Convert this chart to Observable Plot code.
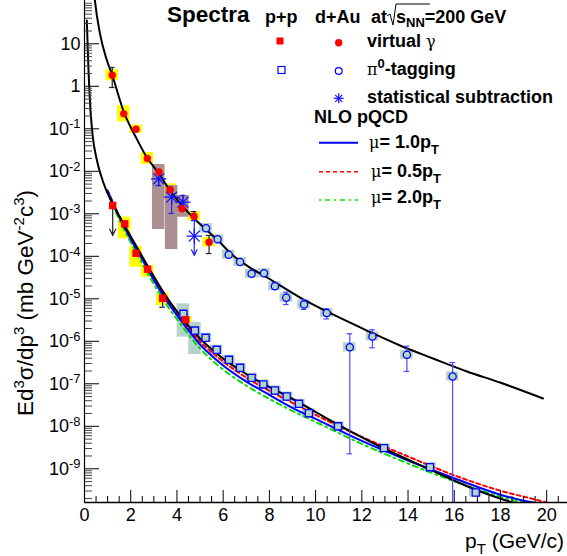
<!DOCTYPE html>
<html><head><meta charset="utf-8">
<script src="https://cdn.jsdelivr.net/npm/d3@7"></script>
<script src="https://cdn.jsdelivr.net/npm/@observablehq/plot@0.6"></script>
<style>
body{margin:0;background:#fff;}
#wrap{position:relative;width:567px;height:556px;font-family:"Liberation Sans",Arial,sans-serif;}
#wrap svg{position:absolute;left:0;top:0;}
</style></head><body><div id="wrap"></div>
<script>
// ---------- data ----------
// d+Au virtual photon
const dAuVgPt   = [1.20, 1.70, 2.23, 2.72, 3.22, 3.71, 4.22, 4.74, 5.39];
const dAuVgVal  = [1.82, 0.225, 0.098, 0.020, 0.0096, 0.00367, 0.00131, 0.00088, 0.000215];
const dAuVgErrLo= [0.937, null, null, null, null, null, null, 6.95e-4, 1.16e-4];
const dAuVgErrHi= [2.77, null, null, null, null, null, null, 1.13e-3, 3.09e-4];
const dAuVgSysLo= [1.35, 0.145, 0.0778, 0.0145, 0.00696, 0.00266, 0.00095, 0.000683, 0.000167];
const dAuVgSysHi= [2.46, 0.349, 0.123, 0.0276, 0.01325, 0.00506, 0.00181, 0.00113, 0.000277];
// d+Au statistical subtraction
const dAuSsPt   = [3.21, 3.77, 4.26, 4.75];
const dAuSsVal  = [0.00667, 0.00246, 0.00188, 0.000297];
const dAuSsErrLo= [0.00464, 0.00102, 0.00141, null];
const dAuSsErrHi= [0.01045, 0.00353, 0.0027, 6.95e-4];
const dAuSsLimTo= [null, null, null, 1.04e-4];
const dAuSsSysLo= [0.000427, 0.000144, 0.00083, null];
const dAuSsSysHi= [0.01445, 0.00464, 0.0027, null];
// d+Au pi0 tagging
const dAuPiPt   = [5.26, 5.76, 6.24, 6.73, 7.23, 7.77, 8.24, 8.73, 9.50, 10.48, 11.48, 12.46, 13.95, 15.93];
const dAuPiVal  = [4.56e-4, 2.51e-4, 1.09e-4, 7.35e-5, 3.88e-5, 4.0e-5, 1.98e-5, 1.06e-5, 7.34e-6, 4.63e-6, 7.26e-7, 1.30e-6, 4.81e-7, 1.49e-7];
const dAuPiErrLo= [null, null, 9.6e-5, null, null, null, 1.66e-5, 7.34e-6, 5.6e-6, 3.35e-6, 2.25e-9, 7.03e-7, 1.95e-7, 1e-12];
const dAuPiErrHi= [null, null, 1.2e-4, null, null, null, 2.36e-5, 1.43e-5, 9.5e-6, 5.82e-6, 1.5e-6, 1.87e-6, 7.67e-7, 3.17e-7];
const dAuPiSysRel=[0.30, 0.28, 0.28, 0.28, 0.28, 0.28, 0.28, 0.28, 0.28, 0.28, 0.28, 0.28, 0.28, 0.28];
// p+p virtual photon
const ppVgPt    = [1.22, 1.74, 2.23, 2.73, 3.38, 4.38];
const ppVgVal   = [1.57e-3, 5.82e-4, 1.18e-4, 4.97e-5, 1.03e-5, 3.22e-6];
const ppVgErrLo = [null, null, null, null, 6.34e-6, null];
const ppVgErrHi = [null, null, null, null, 1.1e-5, 4.27e-6];
const ppVgLimTo = [3.08e-4, null, null, null, null, null];
const ppVgSysLo = [null, 2.58e-4, 5.55e-5, 3.22e-5, 6.95e-6, 2.35e-6];
const ppVgSysHi = [null, 8.32e-4, 1.70e-4, 6.08e-5, 1.38e-5, 3.84e-6];
// p+p pi0 tagging
const ppPiPt    = [4.28, 4.78, 5.24, 5.72, 6.25, 6.73, 7.23, 7.74, 8.24, 8.75, 9.28, 9.71, 10.97, 12.96, 14.95, 16.93];
const ppPiVal   = [4.44e-6, 1.79e-6, 1.21e-6, 6.31e-7, 3.67e-7, 2.38e-7, 1.38e-7, 9.64e-8, 6.95e-8, 5.02e-8, 3.38e-8, 2.03e-8, 1.0e-8, 3.06e-9, 1.09e-9, 2.77e-10];
const ppPiSysLo = [1.25e-6, 4.89e-7, 9.5e-7, 4.9e-7, 2.85e-7, 1.86e-7, 1.08e-7, 7.5e-8, 5.4e-8, 3.9e-8, 2.64e-8, 1.58e-8, 7.8e-9, 2.38e-9, 8.5e-10, 2.16e-10];
const ppPiSysHi = [7.63e-6, 2.81e-6, 1.55e-6, 8.1e-7, 4.7e-7, 3.05e-7, 1.77e-7, 1.23e-7, 8.9e-8, 6.4e-8, 4.33e-8, 2.6e-8, 1.28e-8, 3.92e-9, 1.4e-9, 3.55e-10];
// fit curves (black)
const fitDAuPt  = [0.40, 0.45, 0.67, 0.93, 1.19, 1.71, 2.23, 2.70, 3.22, 3.70, 4.22, 4.74, 5.26, 5.78, 6.43, 7.16, 7.90, 9.33, 10.75, 12.22, 13.65, 15.08, 16.55, 17.98, 19.84];
const fitDAuVal = [200, 104.7, 17.4, 4.76, 1.90, 0.242, 0.0624, 0.0211, 0.00887, 0.00353, 0.00157, 7.74e-4, 4.28e-4, 2.36e-4, 1.04e-4, 5.44e-5, 3.17e-5, 1.07e-5, 4.28e-6, 1.79e-6, 7.96e-7, 3.94e-7, 1.95e-7, 1.07e-7, 4.51e-8];
const fitPpPt   = [0.10, 0.173, 0.26, 0.368, 0.519, 0.714, 0.93, 1.212, 1.709, 2.228, 2.748, 3.397, 4.132, 4.998, 5.993, 7.464, 8.892, 10.97, 12.96, 14.95, 16.90, 17.98, 18.97];
const fitPpVal  = [35.3, 2.36, 0.270, 0.0592, 0.0200, 0.00796, 0.00373, 0.00175, 5.6e-4, 1.79e-4, 5.75e-5, 1.49e-5, 4.05e-6, 1.16e-6, 3.94e-7, 1.20e-7, 4.76e-8, 1.10e-8, 3.0e-9, 9.6e-10, 3.26e-10, 2.0e-10, 1.37e-10];
// NLO pQCD (p+p)
const nloPt     = [1.0, 1.5, 2.0, 2.5, 3.0, 3.5, 4.0, 5.0, 6.0, 7.0, 8.0, 9.0, 10.0, 12.0, 14.0, 16.0, 18.0, 19.0, 20.0];
const nloMu10   = [3.46e-3, 8.55e-4, 2.51e-4, 8.41e-5, 2.74e-5, 9.95e-6, 4.11e-6, 8.41e-7, 2.70e-7, 1.13e-7, 5.48e-8, 2.71e-8, 1.49e-8, 4.53e-9, 1.57e-9, 5.97e-10, 2.46e-10, 1.77e-10, 1.44e-10];
const nloMu05   = [3.56e-3, 9.02e-4, 2.72e-4, 9.12e-5, 3.05e-5, 1.11e-5, 4.58e-6, 9.89e-7, 3.35e-7, 1.40e-7, 6.81e-8, 3.56e-8, 1.85e-8, 5.64e-9, 1.95e-9, 7.03e-10, 3.05e-10, 2.21e-10, 1.61e-10];
const nloMu20   = [3.10e-3, 7.26e-4, 2.13e-4, 6.77e-5, 2.21e-5, 8.01e-6, 3.31e-6, 6.77e-7, 2.17e-7, 9.08e-8, 4.41e-8, 2.30e-8, 1.27e-8, 3.85e-9, 1.33e-9, 5.08e-10, 2.21e-10, 1.59e-10, 1.30e-10];
// axis ticks
const xTicks = [0, 2, 4, 6, 8, 10, 12, 14, 16, 18, 20];
const yTicks = [1e-9, 1e-8, 1e-7, 1e-6, 1e-5, 1e-4, 1e-3, 1e-2, 1e-1, 1, 10];
const yTickLabels = ["10^-9","10^-8","10^-7","10^-6","10^-5","10^-4","10^-3","10^-2","10^-1","1","10"];

// ---------- build tables ----------
const rows = (pt, cols) => pt.map((x, i) => { const o = {x}; for (const k in cols) o[k] = cols[k][i]; return o; });
const dAuVg = rows(dAuVgPt, {y: dAuVgVal, lo: dAuVgErrLo, hi: dAuVgErrHi, slo: dAuVgSysLo, shi: dAuVgSysHi});
const dAuSs = rows(dAuSsPt, {y: dAuSsVal, lo: dAuSsErrLo, hi: dAuSsErrHi, lim: dAuSsLimTo, slo: dAuSsSysLo, shi: dAuSsSysHi});
const dAuPi = rows(dAuPiPt, {y: dAuPiVal, lo: dAuPiErrLo, hi: dAuPiErrHi, rel: dAuPiSysRel});
dAuPi.forEach(d => { d.slo = d.y / (1 + d.rel); d.shi = d.y * (1 + d.rel); });
const ppVg = rows(ppVgPt, {y: ppVgVal, lo: ppVgErrLo, hi: ppVgErrHi, lim: ppVgLimTo, slo: ppVgSysLo, shi: ppVgSysHi});
const ppPi = rows(ppPiPt, {y: ppPiVal, slo: ppPiSysLo, shi: ppPiSysHi});
const fitDAu = rows(fitDAuPt, {y: fitDAuVal});
const fitPp = rows(fitPpPt, {y: fitPpVal});
const nlo10 = rows(nloPt, {y: nloMu10});
const nlo05 = rows(nloPt, {y: nloMu05});
const nlo20 = rows(nloPt, {y: nloMu20});

const W = 567, H = 556, mL = 84, mB = 54, mT = 0, mR = 0;
const innerW = W - mL - mR, innerH = H - mT - mB;
const yMin = 1.61e-10, yMax = 104.5;
const boxHW = 0.27, capHW = 0.12;

const yMinor = [];
for (let k = -10; k <= 2; k++) for (let m = 2; m <= 9; m++) { const v = m * Math.pow(10, k); if (v > yMin && v < yMax) yMinor.push(v); }
const xMinor = [];
for (let v = 0.5; v < 20.9; v += 0.5) if (Math.abs(v / 2 - Math.round(v / 2)) > 1e-6) xMinor.push(+v.toFixed(1));

const YEL = "#ffff00", TEAL = "#b5d3c9", BROWN = "#ab8f93";
const sysBox = (data, fill) => Plot.rect(data.filter(d => d.slo != null), {x1: d => d.x - boxHW, x2: d => d.x + boxHW, y1: "slo", y2: "shi", fill, clip: true});
const errBars = (data, stroke) => {
  const e = data.filter(d => d.hi != null);
  const lo = e.filter(d => d.lo != null && d.lo > yMin);
  return [
    Plot.ruleX(e.filter(d => d.lo != null), {x: "x", y1: "lo", y2: "hi", stroke, strokeWidth: 1.2, clip: true}),
    Plot.ruleX(e.filter(d => d.lo == null), {x: "x", y1: "y", y2: "hi", stroke, strokeWidth: 1.2, clip: true}),
    Plot.ruleY(e, {y: "hi", x1: d => d.x - capHW, x2: d => d.x + capHW, stroke, strokeWidth: 1.2}),
    Plot.ruleY(lo, {y: "lo", x1: d => d.x - capHW, x2: d => d.x + capHW, stroke, strokeWidth: 1.2})
  ];
};
const limArrows = (data, stroke) => Plot.arrow(data.filter(d => d.lim != null), {x1: "x", x2: "x", y1: d => d.lo != null ? d.lo : d.y, y2: "lim", stroke, strokeWidth: 1.2, headLength: 9, headAngle: 50});

const chart = Plot.plot({
  width: W, height: H,
  marginLeft: mL, marginRight: mR, marginTop: mT, marginBottom: mB,
  style: {fontFamily: '"Liberation Sans", Arial, sans-serif', fontSize: "18px", background: "#fff", overflow: "visible"},
  x: {domain: [0, 20.9], axis: null},
  y: {type: "log", domain: [yMin, yMax], axis: null},
  marks: [
    // systematic boxes
    sysBox(ppVg, YEL),
    sysBox(ppPi, TEAL),
    sysBox(dAuVg, YEL),
    sysBox(dAuSs, BROWN),
    sysBox(dAuPi, TEAL),
    // curves
    Plot.line(fitDAu, {x: "x", y: "y", stroke: "#000", strokeWidth: 2, curve: "monotone-x", clip: true}),
    Plot.line(nlo20, {x: "x", y: "y", stroke: "#00e000", strokeWidth: 2, strokeDasharray: "2,4,5,4", curve: "monotone-x", clip: true}),
    Plot.line(nlo05, {x: "x", y: "y", stroke: "#ff0000", strokeWidth: 2, strokeDasharray: "4,3", curve: "monotone-x", clip: true}),
    Plot.line(nlo10, {x: "x", y: "y", stroke: "#0000ff", strokeWidth: 2, curve: "monotone-x", clip: true}),
    Plot.line(fitPp, {x: "x", y: "y", stroke: "#000", strokeWidth: 2, curve: "monotone-x", clip: true}),
    // error bars
    ...errBars(dAuVg, "#222"),
    ...errBars(ppVg, "#222"),
    ...errBars(dAuSs, "#2222ff"),
    ...errBars(dAuPi, "#4a4aff"),
    limArrows(ppVg, "#222"),
    limArrows(dAuSs, "#2222ff"),
    // markers
    Plot.dot(dAuSs, {x: "x", y: "y", symbol: "plus", r: 5, stroke: "#1010ff", strokeWidth: 1.2}),
    Plot.dot(dAuSs, {x: "x", y: "y", symbol: "times", r: 5, stroke: "#1010ff", strokeWidth: 1.2}),
    Plot.dot(dAuPi, {x: "x", y: "y", symbol: "circle", r: 3.6, stroke: "#0000ff", fill: TEAL, strokeWidth: 1.3}),
    Plot.dot(ppPi, {x: "x", y: "y", symbol: "square", r: 4, stroke: "#0000ff", fill: TEAL, strokeWidth: 1.3}),
    Plot.dot(dAuVg, {x: "x", y: "y", symbol: "circle", r: 3.7, fill: "#ff0000"}),
    Plot.dot(ppVg, {x: "x", y: "y", symbol: "square", r: 4.2, fill: "#ff0000"}),
    // axes
    Plot.tickX(xTicks, {x: d => d, insetTop: innerH - 12, stroke: "#000"}),
    Plot.tickX(xMinor, {x: d => d, insetTop: innerH - 6, stroke: "#000"}),
    Plot.tickY(yTicks, {y: d => d, insetRight: innerW - 15, stroke: "#000"}),
    Plot.tickY(yMinor, {y: d => d, insetRight: innerW - 8, stroke: "#444"}),
    Plot.ruleX([0], {stroke: "#000", strokeWidth: 1.2}),
    Plot.ruleY([yMin], {stroke: "#000", strokeWidth: 1.5}),
    Plot.axisX(xTicks, {tickSize: 0, tickPadding: 6, fontSize: 18, tickFormat: d => String(d), label: null}),
    Plot.axisY(yTicks, {tickSize: 0, tickPadding: 4, fontSize: 18, tickFormat: d => yTickLabels[yTicks.indexOf(d)], label: null})
  ]
});

// superscripts on the y tick labels
d3.select(chart).selectAll('g[aria-label="y-axis tick label"] text').each(function () {
  const m = this.textContent.match(/^10\^(-?\d+)$/);
  if (m) {
    this.textContent = "10";
    d3.select(this).append("tspan").attr("dy", "-0.5em").attr("font-size", "0.72em").text(m[1]);
  }
});
document.getElementById("wrap").appendChild(chart);

// ---------- titles & legend overlay ----------
const B = 'font-weight="bold"';
const overlay = `
<svg width="${W}" height="${H}" xmlns="http://www.w3.org/2000/svg" font-family="Liberation Sans, Arial, sans-serif" style="pointer-events:none">
  <text transform="translate(33,303) rotate(-90)" text-anchor="middle" font-size="22.5">Ed<tspan dy="-9" font-size="15">3</tspan><tspan dy="9">σ/dp</tspan><tspan dy="-9" font-size="15">3</tspan><tspan dy="9"> (mb GeV</tspan><tspan dy="-9" font-size="15">-2</tspan><tspan dy="9">c</tspan><tspan dy="-9" font-size="15">3</tspan><tspan dy="9">)</tspan></text>
  <text x="564" y="548" text-anchor="end" font-size="21">p<tspan dy="6" font-size="15">T</tspan><tspan dy="-6"> (GeV/c)</tspan></text>

  <text x="167" y="22" font-size="22.5" ${B}>Spectra</text>
  <text x="265" y="23" font-size="18" ${B}>p+p</text>
  <text x="315" y="23" font-size="18" ${B}>d+Au</text>
  <text x="371" y="23" font-size="18" ${B}>at</text>
  <path d="M387,16 L390,14 L393,25 L396,4 L430,4" fill="none" stroke="#000" stroke-width="1"/>
  <text x="396" y="23" font-size="18" ${B}>s<tspan dy="4" font-size="13">NN</tspan><tspan dy="-4">=200 GeV</tspan></text>

  <rect x="276.5" y="37.5" width="7" height="7" fill="#ff0000"/>
  <circle cx="338.7" cy="42.7" r="3.7" fill="#ff0000"/>
  <text x="367" y="47" font-size="18" ${B}>virtual <tspan font-weight="normal" font-family="DejaVu Serif" font-size="16">γ</tspan></text>

  <rect x="278" y="66.5" width="7" height="7" fill="none" stroke="#0000ff" stroke-width="1.2"/>
  <circle cx="338.7" cy="71" r="3.4" fill="none" stroke="#0000ff" stroke-width="1.2"/>
  <text x="367" y="75" font-size="18" ${B}><tspan font-weight="normal" font-family="DejaVu Serif" font-size="16">π</tspan><tspan dy="-7" font-size="13">0</tspan><tspan dy="7">-tagging</tspan></text>

  <g stroke="#1010ff" stroke-width="1.2">
    <line x1="338.7" y1="93.3" x2="338.7" y2="103.3"/><line x1="333.7" y1="98.3" x2="343.7" y2="98.3"/>
    <line x1="335.2" y1="94.8" x2="342.2" y2="101.8"/><line x1="335.2" y1="101.8" x2="342.2" y2="94.8"/>
  </g>
  <text x="367" y="103" font-size="18" ${B}>statistical subtraction</text>

  <text x="314" y="123" font-size="18" ${B}>NLO pQCD</text>
  <line x1="319" y1="142.7" x2="358" y2="142.7" stroke="#0000ff" stroke-width="2"/>
  <text x="369" y="148" font-size="18" ${B}><tspan font-weight="normal" font-family="DejaVu Serif" font-size="16">μ</tspan>= 1.0p<tspan dy="6" font-size="13">T</tspan></text>
  <line x1="319" y1="171.7" x2="358" y2="171.7" stroke="#ff0000" stroke-width="1.5" stroke-dasharray="4,3"/>
  <text x="371" y="177" font-size="18" ${B}><tspan font-weight="normal" font-family="DejaVu Serif" font-size="16">μ</tspan>= 0.5p<tspan dy="6" font-size="13">T</tspan></text>
  <line x1="319" y1="200" x2="358" y2="200" stroke="#00e000" stroke-width="1.5" stroke-dasharray="2,4,5,4"/>
  <text x="371" y="203" font-size="18" ${B}><tspan font-weight="normal" font-family="DejaVu Serif" font-size="16">μ</tspan>= 2.0p<tspan dy="6" font-size="13">T</tspan></text>
</svg>`;
document.getElementById("wrap").insertAdjacentHTML("beforeend", overlay);
</script></body></html>
